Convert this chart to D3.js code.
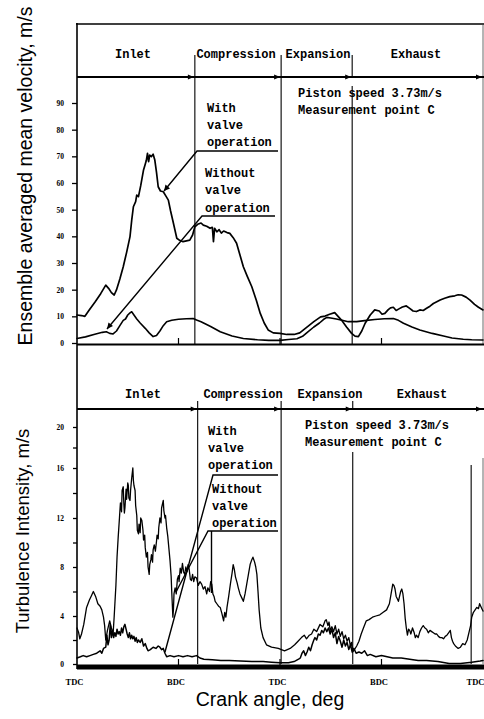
<!DOCTYPE html>
<html>
<head>
<meta charset="utf-8">
<script src="https://cdn.jsdelivr.net/npm/d3@7"></script>
<style>
  html, body { margin: 0; padding: 0; background: #fff; }
  svg { display: block; }
</style>
</head>
<body>
<svg id="chart" width="484" height="719"></svg>
<script>
// ---- crank-angle axis ----
const crankTicks = [0, 180, 360, 540, 720];
const crankLabels = ["TDC", "BDC", "TDC", "BDC", "TDC"];

// ---- stroke phases (boundaries in crank-angle degrees) ----
const phaseNames = ["Inlet", "Compression", "Expansion", "Exhaust"];
const velPhaseBounds = [209, 362, 488];
const turbPhaseBounds = [214, 362, 489, 699];

// ---- tick values ----
const velTicks = [0, 10, 20, 30, 40, 50, 60, 70, 80, 90];
const turbTicks = [0, 2, 4, 6, 8, 10, 12, 14, 16, 18, 20];
const turbLabelled = [0, 4, 8, 12, 16, 20];

// ---- ensemble averaged mean velocity, m/s : [crank angle, value] ----
const velWithValve = [
  [0,10.5],[8,10.3],[14,10],[22,12.5],[32,15.4],[42,18.5],[51,21.7],[56,20.5],[61,18.9],[66,18],
  [70,19.9],[76,24],[82,28.6],[88,34],[94,39.9],[97,46],[100,51.1],[104,53],[106,55.5],[109,54.9],
  [113,59],[118,64.9],[121,67],[123,68.5],[125,71.1],[127,68],[129,70.5],[132,69.9],[135,70.8],[138,68.6],
  [141,64],[144,58.6],[148,57],[153,56.7],[158,55],[162,53.6],[166,49.5],[171,44.9],[177,39.3],[182,38.5],
  [188,38],[194,38.3],[200,38.6],[205,40.5],[209,43.6],[214,44.5],[220,45],[224,44.2],[230,43.8],[236,43],
  [240,43.4],[242,38],[244,43],[248,41.7],[252,42.5],[256,41.2],[260,42],[266,41.4],[271,41.1],[277,39.5],
  [283,37.4],[289,33],[295,28.6],[302,25],[310,21.1],[318,16],[325,11.1],[332,7.5],[339,4.9],[348,3.8],
  [360,3.6],[372,3.2],[385,3.2],[395,3.8],[405,5.5],[420,8],[432,9.8],[440,10.1],[448,10.8],[457,11.4],
  [463,10],[469,8.6],[478,6],[487,3.6],[493,2.6],[499,2.4],[505,4.5],[511,7.4],[520,10.5],[528,12.4],
  [536,12],[541,10.8],[546,11.1],[552,12.5],[556,13.2],[561,13.4],[566,12.2],[571,12.8],[577,13.5],[584,13.9],
  [590,13],[596,12],[602,11.8],[608,12.4],[614,12.2],[620,13],[626,13.8],[632,14.8],[644,16.1],[652,16.8],
  [661,17.4],[670,17.7],[676,18.1],[682,18],[690,17.2],[697,16.1],[705,14.5],[712,13.4],[720,12.4]
];
const velWithoutValve = [
  [0,1.7],[15,2.3],[30,3.2],[45,4],[52,4.2],[58,3.6],[64,3.4],[70,4.5],[76,6.5],[82,8.5],
  [86,9],[90,10.5],[94,11.3],[97,11.7],[101,10.5],[106,9],[112,7.5],[121,5.5],[128,3.8],[135,2.4],
  [141,2.8],[147,4.5],[153,6.5],[159,8],[168,8.5],[180,8.9],[194,9.1],[206,9.2],[212,8.6],[220,8],
  [237,6.2],[254,4.2],[275,2.6],[295,1.7],[320,1.2],[340,1],[360,1],[375,1.3],[390,1.6],[400,2.5],
  [410,4.3],[420,6],[430,7.5],[437,8.8],[443,9.6],[450,9.4],[460,9],[470,8.5],[481,8],[496,8],
  [510,8.4],[528,8.8],[545,9.1],[561,9.2],[570,8.5],[579,7.4],[594,6],[608,4.9],[630,3.6],[650,2.6],
  [665,1.9],[685,1.4],[700,1.2],[720,1.1]
];

// ---- turbulence intensity, m/s : [crank angle, value] ----
const turbWithValve = [
  [0,3],[3,2.6],[5,2.1],[8,2.5],[12,3.3],[17,4.7],[22,5.3],[26,5.7],[29,6],[33,5.6],[37,5],[41,4.8],
  [44,4.5],[47,3.9],[49,3.2],[51,2],[54,2.8],[58,3.6],[61,3],[64,2.5],[66,4],[69,6.5],[71,8.8],[73,10.4],
  [75,11.8],[77,13.2],[79,12.5],[80,14.2],[82,14.5],[83,13.2],[84,12.4],[85,12.8],[87,14.3],[88,13.5],
  [90,14.8],[91,14.6],[92,13.6],[94,13.4],[95,14.2],[97,15.2],[99,16],[100,15],[101,14.6],[103,14.2],
  [104,13],[106,12.2],[107,11],[109,10.7],[110,11.5],[112,10.8],[113,12],[115,11.8],[117,11],[118,10.2],
  [120,10.6],[121,9.6],[123,8.8],[125,9.2],[126,8],[128,7.4],[129,8.2],[131,8.6],[132,9],[134,8.4],
  [135,9.4],[137,9.8],[139,9.3],[141,10.1],[142,10.6],[144,10.3],[145,11.2],[147,12],[149,11.6],[150,12.8],
  [151,13],[153,13.4],[154,12.6],[156,12],[157,12.2],[159,11.2],[161,10.5],[163,9.5],[165,8.5],[167,7.2],
  [168,6],[170,3.9],[171,4.5],[172,5.8],[174,6.3],[176,5.8],[178,7],[180,7.3],[181,6.8],[183,7.9],
  [185,7.5],[187,8.3],[189,7.6],[191,7.4],[193,8],[195,7.6],[197,8.2],[199,7.8],[201,7],[203,6.9],
  [205,7.4],[207,6.8],[209,7.2],[212,7.1],[215,6.5],[218,6.8],[221,6.6],[224,6.2],[227,6.4],[230,5.8],
  [232,6.3],[235,6],[237,6.8],[239,6.6],[241,5.8],[243,5.6],[245,5.2],[248,5],[251,4.8],[254,4.7],
  [257,4.2],[260,3.6],[262,4.3],[264,3.9],[266,4.7],[269,5.6],[272,6.6],[275,7.5],[277,8.2],[279,7.8],
  [281,7.2],[284,6.7],[286,6.3],[289,5.8],[292,5.5],[295,5.2],[298,5.8],[301,6.6],[304,7.4],[307,8.2],
  [310,8.6],[312,8.8],[315,8.4],[317,8],[319,7.4],[321,6],[323,4.5],[326,3],[330,2.2],[336,1.6],
  [345,1.4],[357,1.3],[368,1.1],[378,1.3],[386,1.6],[392,1.9],[398,2.2],[403,2.4],[407,2.1],[412,2.4],
  [416,2.5],[420,2.9],[425,2.7],[431,3.3],[436,3.1],[440,3.6],[442,3.7],[445,3.2],[447,3.5],[449,2.8],
  [452,3.1],[455,2.7],[458,3.2],[461,2.5],[464,2.9],[467,2.3],[470,2.7],[473,2.1],[476,2.4],[479,1.9],
  [482,2.2],[485,1.5],[487,1.8],[489,1],[492,1.2],[496,1.5],[500,1.9],[504,2.5],[508,3],[513,3.6],
  [518,3.7],[524,3.9],[530,4],[537,4.1],[543,4.3],[549,4.5],[554,5],[557,5.8],[560,6.6],[562,6.5],
  [564,6.2],[566,5.6],[568,5.4],[570,5.2],[572,5.6],[574,6],[576,6.2],[578,5.8],[580,5],[582,3.8],
  [584,3],[586,2.4],[588,2.9],[590,2.8],[592,2.5],[595,3],[598,2.6],[600,2.2],[602,2.4],[605,2.2],
  [608,2.7],[611,3],[614,3.2],[617,3],[620,2.9],[623,2.6],[626,2.8],[629,2.7],[632,2.6],[635,2.5],
  [638,2.5],[641,2.3],[644,2.2],[647,2.2],[650,2.1],[653,2.3],[656,2.4],[659,2.6],[662,2.8],[664,2.2],
  [666,1.9],[668,1.7],[671,1.5],[676,1.3],[680,1.4],[684,1.7],[688,1.6],[692,2],[696,2.8],[698,3.2],
  [700,3.9],[703,4.3],[706,4.5],[709,4.7],[712,4.6],[714,5],[716,4.8],[718,4.6],[720,4.4]
];
const turbWithoutValve = [
  [0,0.5],[6,0.6],[11,0.7],[17,0.6],[23,0.7],[29,0.8],[35,0.9],[41,1.1],[44,0.9],[47,1.3],[51,1.4],
  [53,2.4],[55,1.6],[57,2],[59,3.3],[61,2.2],[63,2.8],[65,2.2],[67,2.6],[69,2.3],[71,2.9],[73,2.5],
  [75,2.7],[77,2.4],[79,3],[81,2.6],[83,3.1],[85,3.3],[87,2.9],[89,2.5],[91,2.2],[93,2.6],[95,2.1],
  [97,2.4],[99,2.1],[101,2.3],[103,1.9],[105,2.2],[107,1.8],[109,2],[112,1.8],[115,2.1],[118,1.5],
  [121,1.7],[124,1.3],[126,1.1],[130,1.2],[135,1.4],[140,1.3],[144,1.5],[147,1.4],[150,1.2],[153,1.3],
  [156,0.9],[159,0.6],[165,0.7],[172,0.6],[180,0.7],[188,0.6],[196,0.7],[204,0.6],[212,0.7],[218,0.5],
  [225,0.4],[240,0.35],[255,0.3],[270,0.3],[290,0.25],[310,0.2],[330,0.2],[345,0.15],[360,0.1],[375,0.1],
  [385,0.2],[393,0.4],[396,0.5],[399,0.9],[402,1.1],[405,0.7],[408,1],[411,1.4],[414,1.1],[417,1.6],
  [420,2],[422,2.2],[425,2],[428,2.5],[431,2.4],[434,2.8],[437,2.6],[440,3],[443,2.7],[446,3],
  [449,2.5],[452,2.9],[455,2.2],[458,2.6],[461,1.7],[464,2.3],[467,1.9],[470,1.4],[473,2],[476,1.5],
  [479,1.8],[482,1.2],[485,1.6],[488,1],[491,1.3],[495,0.9],[500,1],[505,0.9],[510,1.1],[515,0.7],
  [520,0.8],[530,0.6],[540,0.7],[550,0.6],[560,0.5],[575,0.5],[590,0.4],[605,0.3],[620,0.3],[640,0.2],
  [660,0.05],[680,0.05],[700,0.15],[715,0.25],[720,0.3]
];

// ---- scales ----
const svg = d3.select("#chart");
svg.append("rect").attr("width", 484).attr("height", 719).attr("fill", "#fff");

const x = d3.scaleLinear().domain([0, 720]).range([77, 483]);
const yVel = d3.scaleLinear().domain([0, 90]).range([343, 103]);
const yTurb = d3.scaleLinear().domain([0, 4, 8, 12, 16, 20]).range([664, 616, 567, 518, 468, 427]);

const INK = "#000";
const MONO = "'Liberation Mono', 'DejaVu Sans Mono', monospace";
const SANS = "'Liberation Sans', Arial, sans-serif";
const SERIF = "'Liberation Serif', 'DejaVu Serif', serif";

// ---- frame lines ----
const frame = svg.append("g").attr("stroke", INK).attr("fill", "none");
frame.append("line").attr("x1", 77).attr("x2", 77).attr("y1", 23).attr("y2", 669).attr("stroke-width", 1.6);
frame.append("line").attr("x1", 76).attr("x2", 484).attr("y1", 24).attr("y2", 24).attr("stroke-width", 1.5);
frame.append("line").attr("x1", 483).attr("x2", 483).attr("y1", 24).attr("y2", 344).attr("stroke-width", 0.8).attr("stroke", "#444");
frame.append("line").attr("x1", 483).attr("x2", 483).attr("y1", 458).attr("y2", 664).attr("stroke-width", 0.8).attr("stroke", "#444");
// baselines
frame.append("line").attr("x1", 77).attr("x2", 484).attr("y1", 344.5).attr("y2", 344.5).attr("stroke-width", 2);
frame.append("line").attr("x1", 77).attr("x2", 484).attr("y1", 667).attr("y2", 667).attr("stroke-width", 5);

// ---- phase header with arrows ----
function header(yLine, bounds, yTickTop, labelCenters, labelBaseline) {
  const g = svg.append("g");
  g.append("line").attr("x1", 77).attr("x2", 484).attr("y1", yLine).attr("y2", yLine)
    .attr("stroke", INK).attr("stroke-width", 1.8);
  const ends = bounds.slice(0, 3).map(b => x(b)).concat([483]);
  ends.forEach(ex => {
    g.append("path")
      .attr("d", `M${ex - 1},${yLine} L${ex - 7},${yLine - 2.6} L${ex - 7},${yLine + 2.6} Z`)
      .attr("fill", INK);
  });
  bounds.slice(0, 3).forEach(b => {
    g.append("line").attr("x1", x(b)).attr("x2", x(b)).attr("y1", yTickTop).attr("y2", yLine)
      .attr("stroke", INK).attr("stroke-width", 1.1);
  });
  phaseNames.forEach((n, i) => {
    g.append("text").attr("x", labelCenters[i]).attr("y", labelBaseline)
      .attr("text-anchor", "middle").attr("font-family", MONO).attr("font-size", 12)
      .attr("font-weight", "bold").attr("fill", INK).text(n);
  });
}
header(77, velPhaseBounds, 55, [133, 236, 318, 416], 58);
header(409, turbPhaseBounds, 401, [143, 243, 330, 422], 398);

// ---- phase boundary lines through the plots ----
const vlines = svg.append("g").attr("stroke", INK).attr("stroke-width", 1.1);
[[velPhaseBounds[0], 77, 345], [velPhaseBounds[1], 77, 345], [velPhaseBounds[2], 86, 345]].forEach(([a, y0, y1]) =>
  vlines.append("line").attr("x1", x(a)).attr("x2", x(a)).attr("y1", y0).attr("y2", y1));
[[turbPhaseBounds[0], 409, 664], [turbPhaseBounds[1], 409, 664], [turbPhaseBounds[2], 452, 664], [turbPhaseBounds[3], 465, 664]].forEach(([a, y0, y1]) =>
  vlines.append("line").attr("x1", x(a)).attr("x2", x(a)).attr("y1", y0).attr("y2", y1));

// ---- inward crank-angle ticks on both baselines ----
const inTicks = svg.append("g").attr("stroke", INK).attr("stroke-width", 1.2);
crankTicks.slice(1, 4).forEach(a => {
  inTicks.append("line").attr("x1", x(a)).attr("x2", x(a)).attr("y1", 338).attr("y2", 344);
  inTicks.append("line").attr("x1", x(a)).attr("x2", x(a)).attr("y1", 659).attr("y2", 665);
});

// ---- y axes ----
const velAxis = svg.append("g").attr("transform", "translate(77,0)")
  .call(d3.axisLeft(yVel).tickValues(velTicks).tickSize(5).tickPadding(8).tickFormat(d3.format("d")));
const turbAxis = svg.append("g").attr("transform", "translate(77,0)")
  .call(d3.axisLeft(yTurb).tickValues(turbTicks).tickSize(4).tickPadding(9)
    .tickFormat(d => turbLabelled.includes(d) ? String(d) : ""));
[velAxis, turbAxis].forEach(ax => {
  ax.select(".domain").remove();
  ax.selectAll(".tick line").attr("stroke", INK).attr("stroke-width", 1.3);
  ax.selectAll(".tick text").attr("font-family", SERIF).attr("font-size", 7.5)
    .attr("font-weight", "bold").attr("fill", INK);
});

// ---- crank-angle axis labels ----
const crankAxis = svg.append("g").attr("transform", "translate(0,667)")
  .call(d3.axisBottom(x).tickValues(crankTicks).tickSize(0).tickPadding(12)
    .tickFormat((d, i) => crankLabels[i]));
crankAxis.select(".domain").remove();
crankAxis.selectAll(".tick text").attr("font-family", SERIF).attr("font-size", 8.5)
  .attr("font-weight", "bold").attr("fill", INK).attr("dx", -3);
// the last label sits against the right edge, so keep it inside the page
crankAxis.selectAll(".tick text").filter((d, i, n) => i === n.length - 1)
  .attr("text-anchor", "end").attr("dx", 1);

// ---- curves ----
const lineVel = d3.line().x(d => x(d[0])).y(d => yVel(d[1]));
const lineTurb = d3.line().x(d => x(d[0])).y(d => yTurb(d[1]));
const curves = svg.append("g").attr("fill", "none").attr("stroke", INK)
  .attr("stroke-linejoin", "round").attr("stroke-linecap", "round");
curves.append("path").attr("d", lineVel(velWithoutValve)).attr("stroke-width", 1.6);
curves.append("path").attr("d", lineVel(velWithValve)).attr("stroke-width", 1.7);
curves.append("path").attr("d", lineTurb(turbWithoutValve)).attr("stroke-width", 1.5);
curves.append("path").attr("d", lineTurb(turbWithValve)).attr("stroke-width", 1.3);

// ---- annotations ----
const ann = svg.append("g").attr("font-family", MONO).attr("font-size", 12)
  .attr("font-weight", "bold").attr("fill", INK);
function textLines(x0, baselines, lines) {
  lines.forEach((t, i) => ann.append("text").attr("x", x0).attr("y", baselines[i]).text(t));
}
textLines(298, [97, 114], ["Piston speed 3.73m/s", "Measurement point C"]);
textLines(207, [112, 129, 146], ["With", "valve", "operation"]);
textLines(205, [177, 194, 212], ["Without", "valve", "operation"]);
textLines(305, [429, 446], ["Piston speed 3.73m/s", "Measurement point C"]);
textLines(208, [435, 452, 469], ["With", "valve", "operation"]);
textLines(212, [493, 510, 527], ["Without", "valve", "operation"]);

const leaders = svg.append("g").attr("fill", "none").attr("stroke", INK).attr("stroke-width", 1.4);
leaders.append("path").attr("d", "M278,151 L197,151 L164,191");
leaders.append("path").attr("d", "M275,216 L202,216 L107,329");
leaders.append("path").attr("d", "M278,475 L213,475 L165,652");
leaders.append("path").attr("d", "M278,531 L208,531 L176,592");
leaders.append("path").attr("d", "M211.5,531 L211.5,593");
// arrow tips at the ends of the upper leaders
svg.append("path").attr("d", "M164,191 L165.5,184.5 L170,188.5 Z").attr("fill", INK);
svg.append("path").attr("d", "M107,329 L108.5,322.5 L113,326 Z").attr("fill", INK);

// ---- axis titles ----
svg.append("text").attr("transform", "translate(32,176) rotate(-90)")
  .attr("text-anchor", "middle").attr("font-family", SANS).attr("font-size", 19.5)
  .attr("fill", INK).text("Ensemble averaged mean velocity, m/s");
svg.append("text").attr("transform", "translate(29,531) rotate(-90)")
  .attr("text-anchor", "middle").attr("font-family", SANS).attr("font-size", 18.5)
  .attr("fill", INK).text("Turbulence Intensity, m/s");
svg.append("text").attr("x", 270).attr("y", 706)
  .attr("text-anchor", "middle").attr("font-family", SANS).attr("font-size", 19.5)
  .attr("fill", INK).text("Crank angle, deg");
</script>
</body>
</html>
